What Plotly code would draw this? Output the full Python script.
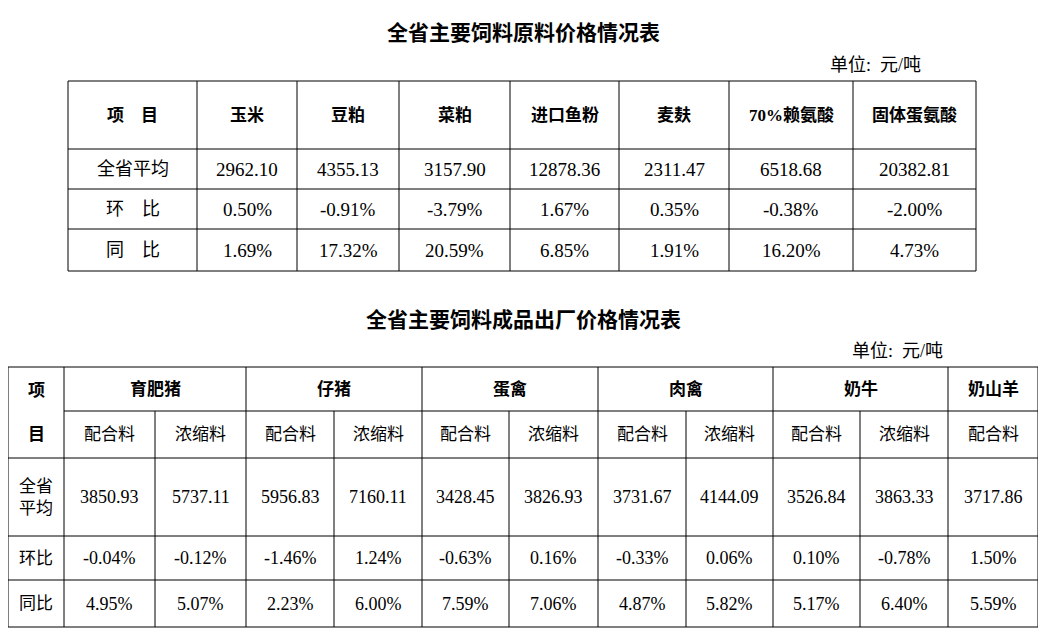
import plotly.graph_objects as go

# data - table 1
t1_title = "全省主要饲料原料价格情况表"
t1_header = ["项　目", "玉米", "豆粕", "菜粕", "进口鱼粉", "麦麸", "70%赖氨酸", "固体蛋氨酸"]
t1_rows = ["全省平均", "环　比", "同　比"]
t1_avg = ["2962.10", "4355.13", "3157.90", "12878.36", "2311.47", "6518.68", "20382.81"]
t1_mom = ["0.50%", "-0.91%", "-3.79%", "1.67%", "0.35%", "-0.38%", "-2.00%"]
t1_yoy = ["1.69%", "17.32%", "20.59%", "6.85%", "1.91%", "16.20%", "4.73%"]

# data - table 2
t2_title = "全省主要饲料成品出厂价格情况表"
t2_groups = ["育肥猪", "仔猪", "蛋禽", "肉禽", "奶牛", "奶山羊"]
t2_sub = ["配合料", "浓缩料"] * 5 + ["配合料"]
t2_rows = ["全省<br>平均", "环比", "同比"]
t2_avg = ["3850.93", "5737.11", "5956.83", "7160.11", "3428.45", "3826.93",
          "3731.67", "4144.09", "3526.84", "3863.33", "3717.86"]
t2_mom = ["-0.04%", "-0.12%", "-1.46%", "1.24%", "-0.63%", "0.16%",
          "-0.33%", "0.06%", "0.10%", "-0.78%", "1.50%"]
t2_yoy = ["4.95%", "5.07%", "2.23%", "6.00%", "7.59%", "7.06%",
          "4.87%", "5.82%", "5.17%", "6.40%", "5.59%"]
unit = "单位:  元/吨"

FONT = "Liberation Serif, Noto Sans CJK SC"
shapes, ann = [], []

def line(x0, y0, x1, y1):
    shapes.append(dict(type="line", x0=x0, y0=y0, x1=x1, y1=y1, xref="x", yref="y",
                       line=dict(color="black", width=1)))

def text(x, y, s, size=18, bold=False):
    ann.append(dict(x=x, y=y, xref="x", yref="y", text=f"<b>{s}</b>" if bold else s,
                    showarrow=False, font=dict(size=size, family=FONT, color="black")))

# table 1 layout
c1 = [68, 197, 297, 399, 510, 619, 729, 853, 976]
r1 = [81, 149, 189, 229, 271]
text(523, 33, t1_title, 21, True)
text(875, 65, unit, 18)
for x in c1:
    line(x, r1[0], x, r1[-1])
for y in r1:
    line(c1[0], y, c1[-1], y)
for i, h in enumerate(t1_header):
    text((c1[i] + c1[i + 1]) / 2, (r1[0] + r1[1]) / 2, h, 17, True)
for j, (lab, vals) in enumerate(zip(t1_rows, [t1_avg, t1_mom, t1_yoy])):
    yc = (r1[j + 1] + r1[j + 2]) / 2
    text((c1[0] + c1[1]) / 2, yc, lab, 18)
    for i, v in enumerate(vals):
        text((c1[i + 1] + c1[i + 2]) / 2, yc, v, 19)

# table 2 layout
c2 = [8, 64, 155, 246, 334, 422, 509, 598, 686, 773, 860, 948, 1038]
r2 = [367, 411, 458, 536, 580, 627]
text(523, 320, t2_title, 21, True)
text(897, 351, unit, 18)
line(c2[0], r2[0], c2[-1], r2[0])
line(c2[1], r2[1], c2[-1], r2[1])
for y in r2[2:]:
    line(c2[0], y, c2[-1], y)
group_edges = [1, 3, 5, 7, 9, 11, 12]
for k, x in enumerate(c2):
    y0 = r2[0] if (k == 0 or k in group_edges) else r2[1]
    line(x, y0, x, r2[-1])
text((c2[0] + c2[1]) / 2, (r2[0] + r2[2]) / 2, "项<br><br>目", 17, True)
for g, name in enumerate(t2_groups):
    a, b = group_edges[g], group_edges[g + 1]
    text((c2[a] + c2[b]) / 2, (r2[0] + r2[1]) / 2, name, 17, True)
for i, s in enumerate(t2_sub):
    text((c2[i + 1] + c2[i + 2]) / 2, (r2[1] + r2[2]) / 2, s, 17)
for j, (lab, vals) in enumerate(zip(t2_rows, [t2_avg, t2_mom, t2_yoy])):
    yc = (r2[j + 2] + r2[j + 3]) / 2
    text((c2[0] + c2[1]) / 2, yc, lab, 17)
    for i, v in enumerate(vals):
        text((c2[i + 1] + c2[i + 2]) / 2, yc, v, 18)

fig = go.Figure()
fig.update_layout(
    width=1046, height=636, margin=dict(l=0, r=0, t=0, b=0),
    paper_bgcolor="white", plot_bgcolor="white", showlegend=False,
    xaxis=dict(range=[8, 1054], visible=False, fixedrange=True),
    yaxis=dict(range=[644, 8], visible=False, fixedrange=True),
    shapes=shapes, annotations=ann,
)
fig.write_html("out.html")
